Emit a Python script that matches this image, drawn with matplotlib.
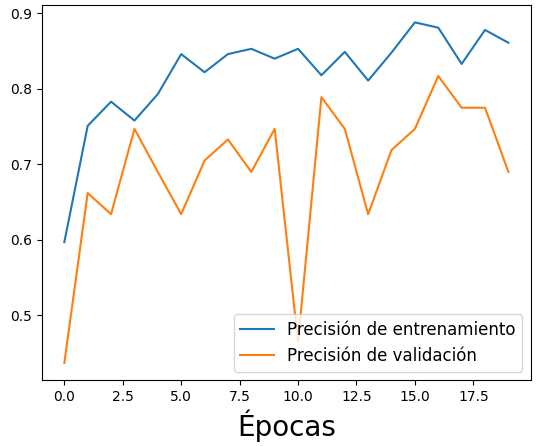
import matplotlib
matplotlib.use("Agg")
import matplotlib.pyplot as plt

epochs = list(range(20))
train_acc = [0.597, 0.751, 0.783, 0.758, 0.793, 0.846, 0.822, 0.846, 0.853, 0.840,
             0.853, 0.818, 0.849, 0.811, 0.848, 0.888, 0.881, 0.833, 0.878, 0.861]
val_acc = [0.437, 0.662, 0.634, 0.747, 0.690, 0.634, 0.705, 0.733, 0.690, 0.747,
           0.465, 0.789, 0.747, 0.634, 0.719, 0.747, 0.817, 0.775, 0.775, 0.690]

fig = plt.figure(figsize=(5.47, 4.46), dpi=100)
ax = fig.add_axes([0.077, 0.148, 0.893, 0.84])
ax.plot(epochs, train_acc, label="Precisión de entrenamiento")
ax.plot(epochs, val_acc, label="Precisión de validación")
ax.set_xlabel("Épocas", fontsize=20)
ax.legend(loc="lower right", fontsize=12)
fig.savefig("out.png", dpi=100)
